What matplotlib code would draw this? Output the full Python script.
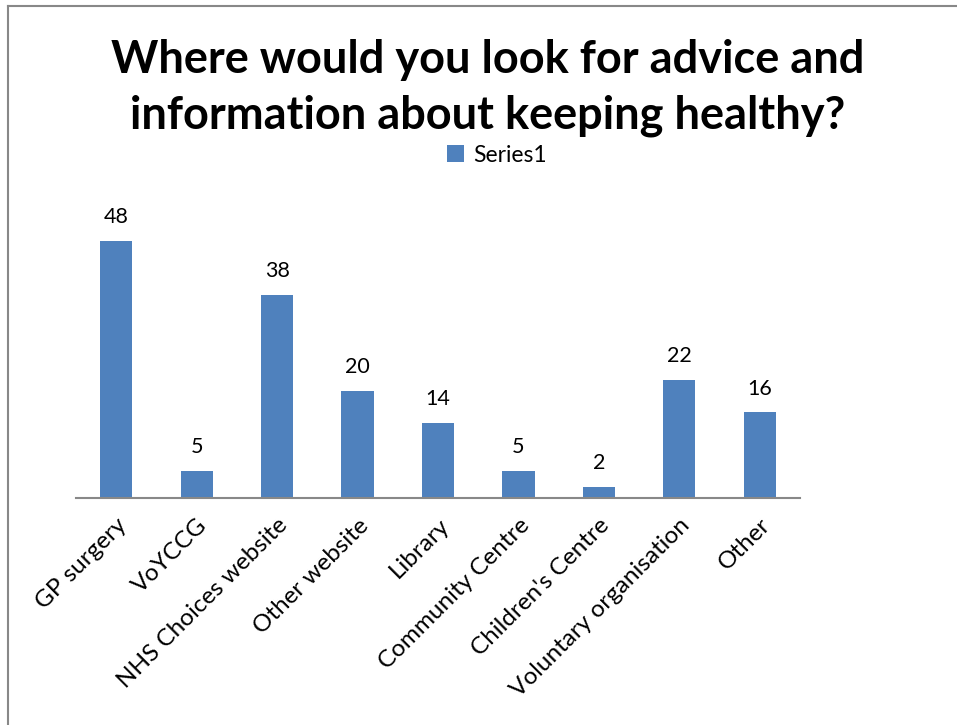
import matplotlib
matplotlib.use("Agg")
import matplotlib.pyplot as plt
from matplotlib.lines import Line2D

categories = ["GP surgery", "VoYCCG", "NHS Choices website", "Other website",
              "Library", "Community Centre", "Children's Centre",
              "Voluntary organisation", "Other"]
values = [48, 5, 38, 20, 14, 5, 2, 22, 16]
series_name = "Series1"
title = "Where would you look for advice and\ninformation about keeping healthy?"

W, H = 957, 725
fig = plt.figure(figsize=(W / 100, H / 100), dpi=100)
plt.rcParams["font.family"] = ["Lato", "DejaVu Sans"]

ax = fig.add_axes([76 / W, 1 - 498 / H, (800 - 76) / W, (498 - 177) / H])
bar_color = "#4F81BD"
x = range(len(categories))
bars = ax.bar(x, values, width=0.4, color=bar_color, label=series_name)
ax.set_xlim(-0.5, len(categories) - 0.5)
ax.set_ylim(0, 60)

for xi, v in zip(x, values):
    ax.annotate(str(v), (xi, v), xytext=(0, 10), textcoords="offset points",
                ha="center", va="bottom", fontsize=15.5)

for side in ["left", "right", "top"]:
    ax.spines[side].set_visible(False)
ax.spines["bottom"].set_color("#888888")
ax.spines["bottom"].set_linewidth(1.5)
ax.set_yticks([])
ax.set_xticks(list(x))
ax.set_xticklabels(categories, rotation=45, ha="right", rotation_mode="anchor",
                   fontsize=17.5)
ax.tick_params(axis="x", length=0, pad=12)

fig.text(488 / W, 1 - 88 / H, title, ha="center", va="center",
         fontsize=32.5, fontweight="bold", linespacing=1.42)

fig.legend(handles=[bars], labels=[series_name], loc="center",
           bbox_to_anchor=(497 / W, 1 - 155 / H), frameon=False, fontsize=16.5,
           handlelength=0.75, handleheight=0.75, handletextpad=0.4)

# chart frame
fig.add_artist(Line2D([8 / W, 8 / W], [0, 1 - 6 / H], color="#888888", lw=1.5,
                      transform=fig.transFigure))
fig.add_artist(Line2D([8 / W, 1], [1 - 6 / H, 1 - 6 / H], color="#888888", lw=1.5,
                      transform=fig.transFigure))

fig.savefig("out.png", dpi=100, facecolor="white")
